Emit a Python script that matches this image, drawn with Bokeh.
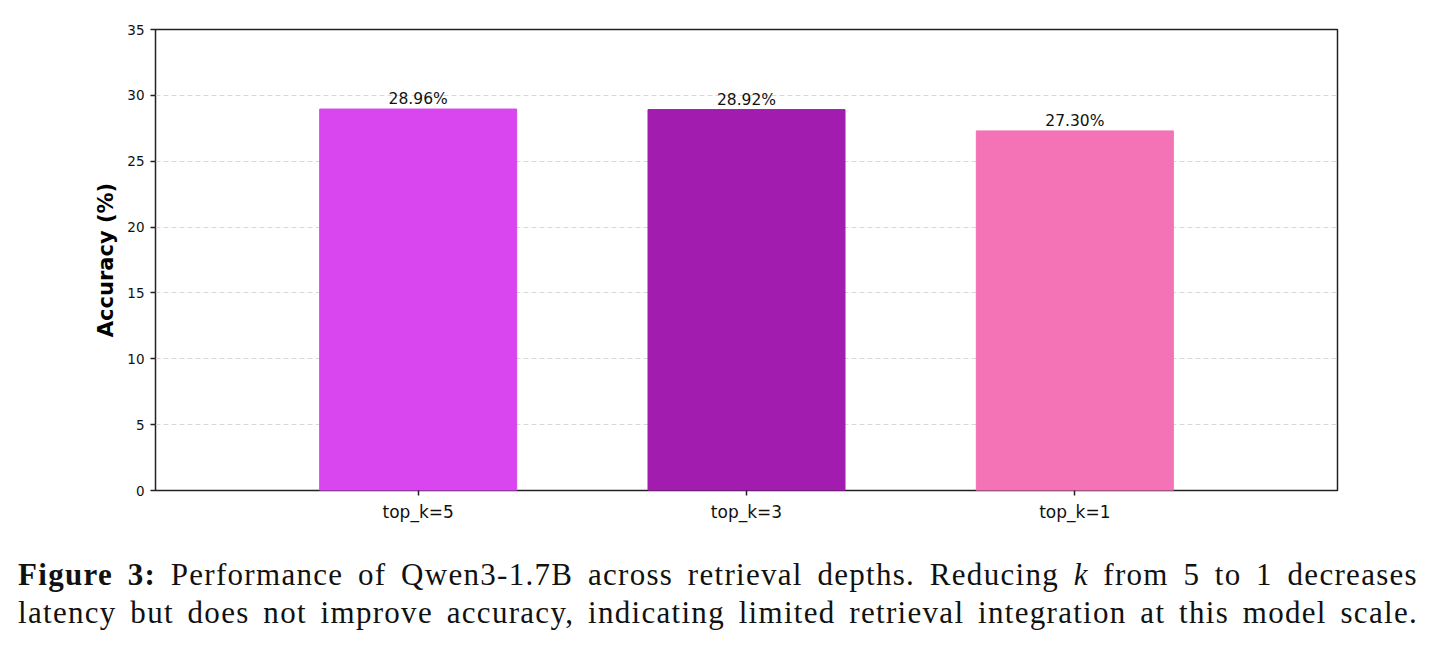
from bokeh.plotting import figure
from bokeh.models import ColumnDataSource, FixedTicker, Div, Range1d
from bokeh.core.properties import value
from bokeh.layouts import column
from bokeh.embed import file_html
from bokeh.resources import INLINE

# Accuracy of Qwen3-1.7B for each retrieval depth
categories = ["top_k=5", "top_k=3", "top_k=1"]
accuracy = [28.96, 28.92, 27.30]
bar_colors = ["#d946ef", "#a21caf", "#f472b6"]
y_ticks = [0, 5, 10, 15, 20, 25, 30, 35]

xs = list(range(len(categories)))
src = ColumnDataSource(dict(
    x=xs,
    acc=accuracy,
    color=bar_colors,
    label=[f"{a:.2f}%" for a in accuracy],
))

p = figure(
    width=1435, height=556,
    x_range=Range1d(-0.8, len(categories) - 0.2),
    y_range=Range1d(0, 35),
    output_backend="svg", toolbar_location=None,
    min_border_left=155, min_border_right=98,
    min_border_top=29, min_border_bottom=66,
)

p.vbar(x="x", top="acc", width=0.6, color="color", source=src)
p.text(x="x", y="acc", text="label", source=src,
       text_align="center", text_baseline="bottom",
       text_font=value("DejaVu Sans"),
       text_font_size="15.5px", text_color="#111111", y_offset=-1)

# frame and grid
p.outline_line_color = "#222222"
p.outline_line_width = 1.5
p.xgrid.grid_line_color = None
p.ygrid.grid_line_color = "#d8d8d8"
p.ygrid.grid_line_dash = "5 3"
p.ygrid.grid_line_width = 1
p.ygrid.ticker = FixedTicker(ticks=y_ticks)

# axes
p.xaxis.ticker = FixedTicker(ticks=xs)
p.xaxis.major_label_overrides = {i: c for i, c in enumerate(categories)}
p.yaxis.ticker = FixedTicker(ticks=y_ticks)
for ax in (p.xaxis[0], p.yaxis[0]):
    ax.axis_line_color = None
    ax.major_tick_line_color = "#222222"
    ax.major_tick_line_width = 1.5
    ax.major_tick_out = 5
    ax.major_tick_in = 0
    ax.minor_tick_line_color = None
    ax.major_label_text_font = "DejaVu Sans"
    ax.major_label_text_color = "#111111"
p.yaxis.major_label_text_font_size = "13.5px"
p.xaxis.major_label_text_font_size = "17px"
p.xaxis.major_label_standoff = 6
p.yaxis.major_label_standoff = 6

p.yaxis.axis_label = "Accuracy (%)"
p.yaxis.axis_label_text_font = "DejaVu Sans"
p.yaxis.axis_label_text_font_style = "bold"
p.yaxis.axis_label_text_font_size = "21px"
p.yaxis.axis_label_text_color = "#000000"
p.yaxis.axis_label_standoff = 6

line_style = ("display:block;width:1400px;white-space:normal;"
              "text-align:justify;text-align-last:justify;"
              "font-family:'Liberation Serif',serif;font-size:31px;"
              "letter-spacing:1.3px;line-height:38px;color:#111111;")
caption = Div(
    width=1400, height=90,
    margin=(0, 0, 0, 18),
    styles={"width": "1400px"},
    text=(
        f'<div style="{line_style}"><b>Figure 3:</b> Performance of Qwen3-1.7B across '
        'retrieval depths. Reducing <i>k</i> from 5 to 1 decreases</div>'
        f'<div style="{line_style}">latency but does not improve accuracy, indicating '
        'limited retrieval integration at this model scale.</div>'
    ),
)

layout = column(p, caption, spacing=0)
open("out.html", "w").write(file_html(layout, INLINE))
